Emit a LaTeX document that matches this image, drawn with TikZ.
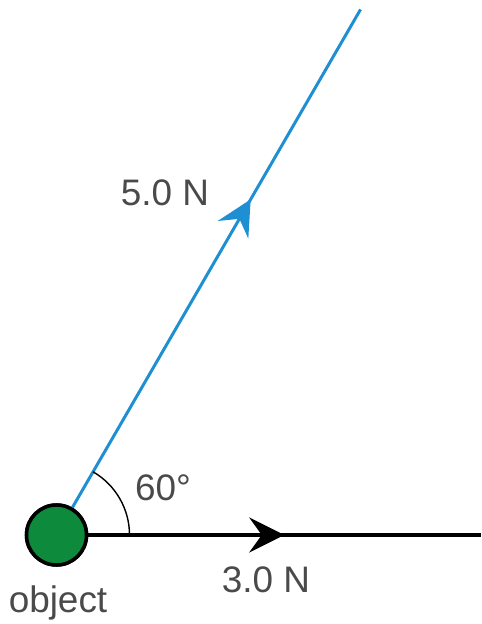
\documentclass[tikz,border=0pt]{standalone}
\usepackage{fontspec}
\setmainfont{Liberation Sans}
\usepackage{tikz}
\usetikzlibrary{arrows.meta,decorations.markings}
\definecolor{forceblue} {HTML}{1E8FD2}
\definecolor{objgreen}  {HTML}{0E8A3C}
\definecolor{labelgray} {HTML}{4A4A4A}

\begin{document}
\begin{tikzpicture}[
  obj/.style={circle,draw=black,fill=objgreen,line width=2pt,
              minimum size=1.2cm,inner sep=0pt},
  lbl/.style={text=labelgray,font=\fontsize{21}{25}\selectfont,inner sep=0pt},
  forcetip/.tip={Stealth[length=7mm,width=7mm,inset=2.5mm]},
  midarrow/.style={postaction={decorate},
    decoration={markings,mark=at position #1 with {\arrow{forcetip}}}},
  x=1cm, y=1cm
]
\useasboundingbox (0,0) rectangle (9.62,12.48);

% --- object and line ends ---
\node[obj] (obj) at (1.13,1.78) {};
\coordinate (fiveend)  at (7.21,12.29);
\coordinate (threeend) at (9.62,1.78);

% --- forces ---
\draw[forceblue,line width=1.7pt,midarrow=7.12cm] (obj) -- (fiveend);
\draw[black,line width=2.3pt,midarrow=3.92cm] (obj) -- (threeend);
\node[obj] at (obj) {};

% --- angle ---
\draw[black,line width=0.8pt] ([shift={(0:1.46)}]obj.center) arc (0:60:1.46);

% --- labels ---
\node[lbl] (lfive)  at (3.30,8.62) {5.0 N};
\node[lbl] (langle) at (3.26,2.72) {60°};
\node[lbl] (lthree) at (5.32,0.88) {3.0 N};
\node[lbl] (lobj)   at (1.16,0.42) {object};
\end{tikzpicture}
\end{document}
